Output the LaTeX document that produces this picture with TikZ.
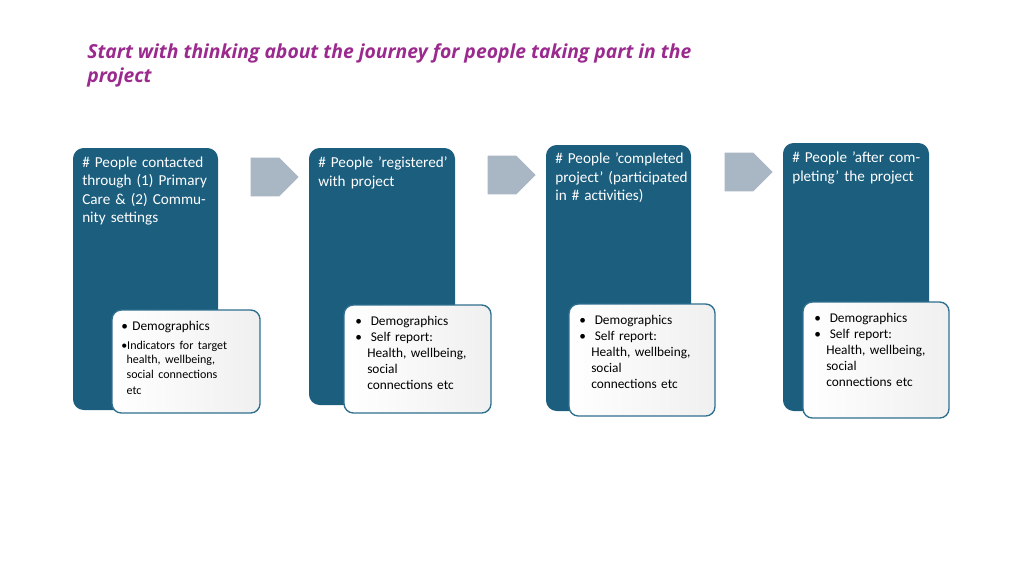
\documentclass[tikz,border=0pt]{standalone}
\usepackage{fontspec}
\setmainfont{Carlito}
\newfontfamily\titlefont{Open Sans}
\definecolor{dblue}{HTML}{1B5E7E}
\definecolor{ttl}{HTML}{9B2A8E}
\definecolor{arrg}{HTML}{A9B6C4}
\definecolor{inborder}{HTML}{2F6F8F}
\usetikzlibrary{shapes.arrows}
\begin{document}
\begin{tikzpicture}[x=0.75pt,y=-0.75pt,
  outer/.style={fill=dblue,rounded corners=8pt},
  inner/.style={draw=inborder,line width=1pt,rounded corners=7pt,left color=white,right color=gray!12},
  otext/.style={anchor=north west,text=white,font=\fontsize{11.4}{13.6}\selectfont,align=left,inner sep=0pt,text width=100pt},
  itext/.style={anchor=north west,font=\fontsize{10}{12}\selectfont,align=left,inner sep=0pt,text width=102pt},
  garrow/.style={single arrow,fill=arrg,minimum height=36pt,minimum width=29pt,single arrow head extend=0pt,inner sep=0pt,shape border rotate=0,single arrow tip angle=90}]
\useasboundingbox (0,0) rectangle (1024,575);
\node[anchor=north west,text=ttl,font=\titlefont\bfseries\itshape\fontsize{14.5}{18}\selectfont,align=left,inner sep=0pt] (title) at (87,43) {Start with thinking about the journey for people taking part in the\\project};

\fill[outer] (73,148) rectangle (218,410);
\fill[outer] (309,148) rectangle (455,405);
\fill[outer] (546,145) rectangle (691,411);
\fill[outer] (783,143) rectangle (929,411);

\node[otext] (t1) at (82,157) {\# People contacted through (1) Primary Care \& (2) Community settings};
\node[otext] (t2) at (318,157) {\# People 'registered' with project};
\node[otext] (t3) at (555,153) {\# People 'completed project' (participated in \# activities)};
\node[otext] (t4) at (792,152) {\# People 'after completing' the project};

\draw[inner] (112,310) rectangle (260,413);
\draw[inner] (344,305) rectangle (491,413);
\draw[inner] (569,304) rectangle (715,416);
\draw[inner] (803,302) rectangle (949,418);

\node[itext] (i1) at (121,321) {\textbullet\ Demographics\\[3pt]{\fontsize{9}{11}\selectfont\textbullet Indicators for target\\\hspace*{4pt}health, wellbeing,\\\hspace*{4pt}social connections\\\hspace*{4pt}etc}};
\node[itext] (i2) at (355,316) {\textbullet\ \ Demographics\\\textbullet\ \ Self report:\\\hspace*{9pt}Health, wellbeing,\\\hspace*{9pt}social\\\hspace*{9pt}connections etc};
\node[itext] (i3) at (579,315) {\textbullet\ \ Demographics\\\textbullet\ \ Self report:\\\hspace*{9pt}Health, wellbeing,\\\hspace*{9pt}social\\\hspace*{9pt}connections etc};
\node[itext] (i4) at (814,313) {\textbullet\ \ Demographics\\\textbullet\ \ Self report:\\\hspace*{9pt}Health, wellbeing,\\\hspace*{9pt}social\\\hspace*{9pt}connections etc};

\node[garrow] (a1) at (265,177) {};
\node[garrow] (a2) at (502,175) {};
\node[garrow] (a3) at (739,172) {};
\end{tikzpicture}
\end{document}
